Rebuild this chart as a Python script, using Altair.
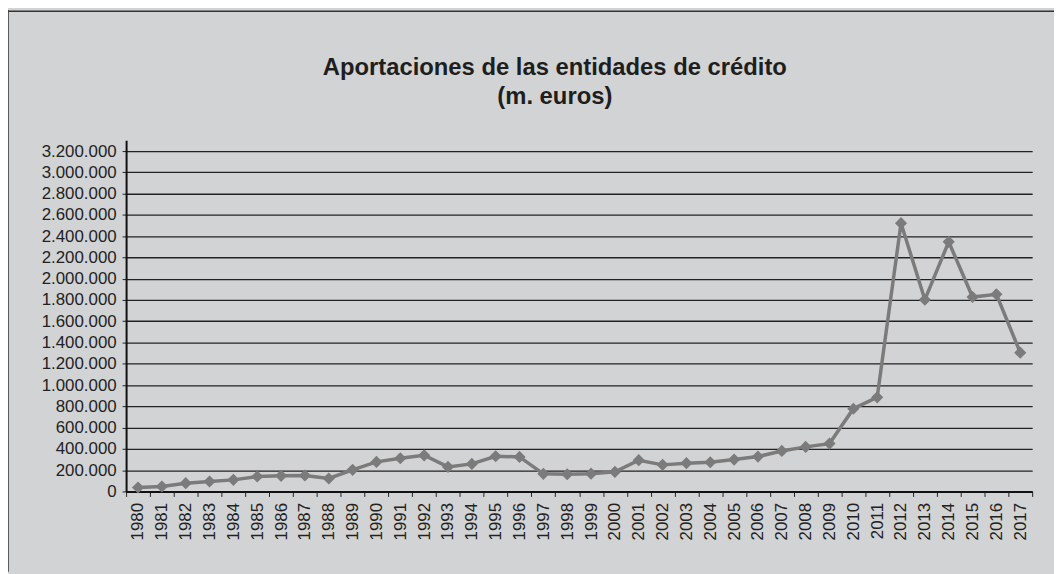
import altair as alt
import pandas as pd

title_lines = ["Aportaciones de las entidades de crédito", "(m. euros)"]
years = [str(y) for y in range(1980, 2018)]
values = [37500, 47000, 78000, 94000, 109000, 141000, 147000, 150000, 122000, 203000,
          278000, 312000, 340000, 231000, 259000, 331000, 325000, 166000, 162000, 167000,
          184000, 294000, 250000, 266000, 275000, 300000, 328000, 381000, 419000, 450000,
          778000, 885000, 2522000, 1803000, 2347000, 1828000, 1853000, 1305000]
y_ticks = list(range(0, 3200001, 200000))

df = pd.DataFrame({"year": years, "value": values})
one = pd.DataFrame({"a": [0]})

BG = "#d2d3d4"
FONT = "Liberation Sans"

x_enc = alt.X("year:O", sort=None, title=None,
              scale=alt.Scale(type="band", paddingInner=0, paddingOuter=0),
              axis=alt.Axis(labelAngle=-90, labelFontSize=17, labelFont=FONT,
                            labelColor="#222222", tickBand="extent", tickSize=5,
                            tickColor="#222222", domainColor="#111111", domainWidth=2,
                            labelPadding=6, grid=False, labelOverlap=False))
y_enc = alt.Y("value:Q", title=None,
              scale=alt.Scale(domain=[0, 3302600], nice=False, zero=True),
              axis=alt.Axis(values=y_ticks, labelFontSize=17, labelFont=FONT,
                            labelColor="#222222", tickSize=4, tickColor="#222222",
                            domainColor="#111111", domainWidth=2, labelPadding=6,
                            labelOverlap=False, tickCount=17,
                            grid=True, gridColor="#222222", gridWidth=1.3,
                            labelExpr="replace(format(datum.value, ',d'), /,/g, '.')"))

base = alt.Chart(df)
line = base.mark_line(color="#7b7b7b", strokeWidth=3.5).encode(x=x_enc, y=y_enc)
pts = base.mark_point(shape="diamond", filled=True, size=150, color="#7b7b7b", opacity=1).encode(
    x=alt.X("year:O", sort=None), y="value:Q")

frame_left = alt.Chart(one).mark_rule(color="#333333", strokeWidth=1.5).encode(
    x=alt.value(-119), y=alt.value(-131), y2=alt.value(435))
frame_top = alt.Chart(one).mark_rule(color="#333333", strokeWidth=1.5).encode(
    x=alt.value(-119), x2=alt.value(935), y=alt.value(-130))

t1 = alt.Chart(one).mark_text(font=FONT, fontSize=24, fontWeight="bold", color="#1e1e1e",
                              align="center", baseline="alphabetic").encode(
    text=alt.value(title_lines[0]), x=alt.value(432), y=alt.value(-66))
t2 = alt.Chart(one).mark_text(font=FONT, fontSize=24, fontWeight="bold", color="#1e1e1e",
                              align="center", baseline="alphabetic").encode(
    text=alt.value(title_lines[1]), x=alt.value(432), y=alt.value(-36))

chart = alt.layer(line, pts, frame_left, frame_top, t1, t2).properties(
    width=913, height=354,
    autosize=alt.AutoSizeParams(type="none"),
    padding={"left": 119, "top": 131, "right": 22, "bottom": 81},
    background=BG,
).configure_view(stroke=None)

chart.save("out.html", embed_options={"renderer": "svg", "actions": False})
